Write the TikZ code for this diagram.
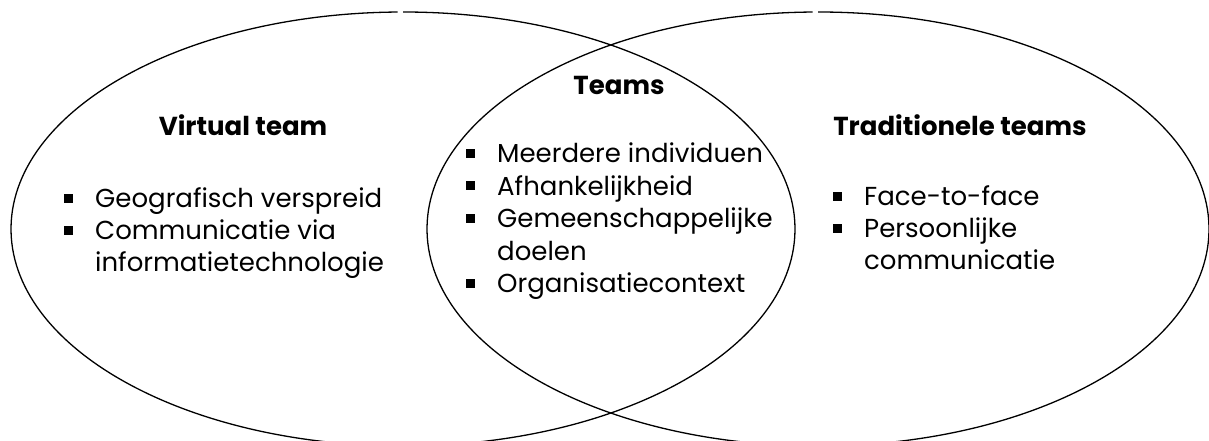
\documentclass[tikz,border=0pt]{standalone}
\usepackage{fontspec}
\setmainfont{Poppins}
% square list marker followed by the gap up to the item text
\newcommand\sqbul{\rule[5pt]{9pt}{9pt}\hspace{22pt}}
\begin{document}
\begin{tikzpicture}[x=1pt,y=1pt,
  ring/.style={draw=black,line width=1.3pt},
  head/.style={inner sep=0pt,anchor=base,font=\fontsize{26}{31}\selectfont\bfseries},
  item/.style={inner sep=0pt,anchor=base west,font=\fontsize{26}{31}\selectfont}]
\useasboundingbox (0,0) rectangle (1209,441);
\clip (0,0) rectangle (1209,441);
% two overlapping ellipses, each with a small seam just left of its top
\coordinate (lc) at (403,212);
\coordinate (rc) at (818,212);
\draw[ring] ([shift={(90.8:392 and 217)}]lc) arc[start angle=90.8,end angle=450,x radius=392,y radius=217];
\draw[ring] ([shift={(90.8:391 and 217)}]rc) arc[start angle=90.8,end angle=450,x radius=391,y radius=217];
% headings
\node[head] (hv) at (243,305) {Virtual team};
\node[head] (ht) at (619,346) {Teams};
\node[head] (hr) at (960,305) {Traditionele teams};
% left list
\node[item] (l1) at (64,233) {\sqbul Geografisch verspreid};
\node[item] (l2) at (64,201) {\sqbul Communicatie via};
\node[item] (l3) at (95,169) {informatietechnologie};
% middle list
\node[item] (m1) at (466,278) {\sqbul Meerdere individuen};
\node[item] (m2) at (466,245.5) {\sqbul Afhankelijkheid};
\node[item] (m3) at (466,213) {\sqbul Gemeenschappelijke};
\node[item] (m4) at (497,180.5) {doelen};
\node[item] (m5) at (466,148) {\sqbul Organisatiecontext};
% right list
\node[item] (r1) at (833,235) {\sqbul Face-to-face};
\node[item] (r2) at (833,203) {\sqbul Persoonlijke};
\node[item] (r3) at (864,171) {communicatie};
\end{tikzpicture}
\end{document}
